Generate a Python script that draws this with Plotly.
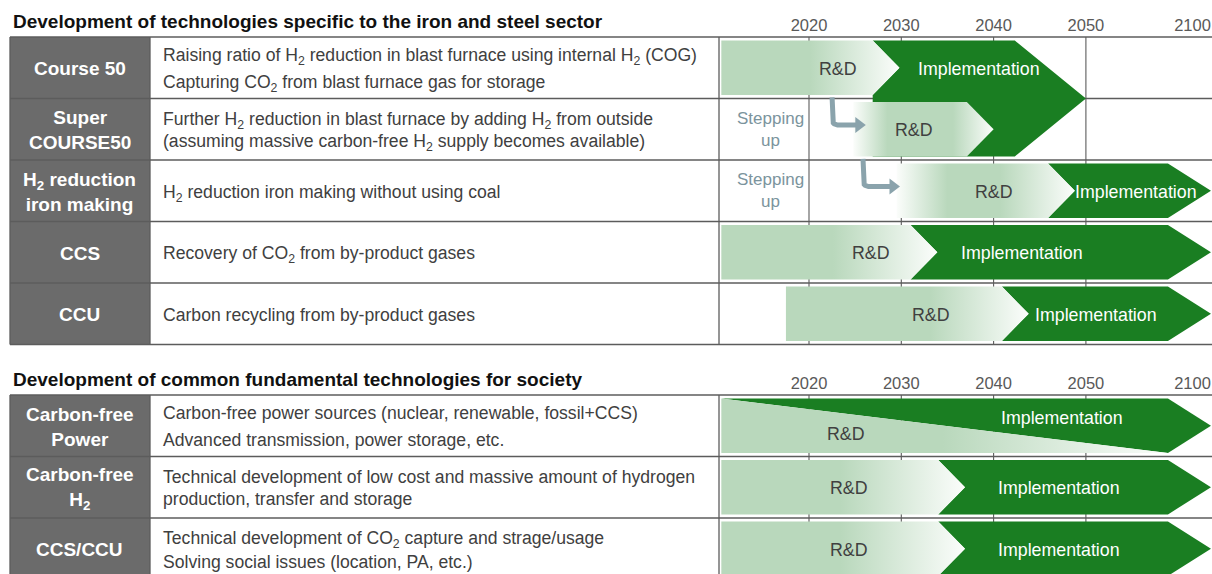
import numpy as np
import plotly.graph_objects as go

# ---------------------------------------------------------------- data
TICK_YEARS = [2020, 2030, 2040, 2050, 2100]
GRID_YEARS = [2020, 2030, 2040, 2050]

SECTION_TITLES = [
    "Development of technologies specific to the iron and steel sector",
    "Development of common fundamental technologies for society",
]

SEC1_LABELS = ["Course 50", "Super<br>COURSE50", "H<sub>2</sub> reduction<br>iron making", "CCS", "CCU"]
SEC1_DESC = [
    ["Raising ratio of H<sub>2</sub> reduction in blast furnace using internal H<sub>2</sub> (COG)",
     "Capturing CO<sub>2</sub> from blast furnace gas for storage"],
    ["Further H<sub>2</sub> reduction in blast furnace by adding H<sub>2</sub> from outside",
     "(assuming massive carbon-free H<sub>2</sub> supply becomes available)"],
    ["H<sub>2</sub> reduction iron making without using coal"],
    ["Recovery of CO<sub>2</sub> from by-product gases"],
    ["Carbon recycling from by-product gases"],
]
SEC1_RD_START = [2010.5, 2024.8, 2029.5, 2010.5, 2017.5]      # R&D begins
SEC1_IMPL_START = [2026.9, 2037.1, 2045.9, 2031.0, 2040.9]    # R&D hands over to implementation
SEC1_IMPL_END = [2050, None, 2100, 2100, 2100]                # None: shares Course 50 implementation
SEC1_STEP_FROM = [None, 2022.5, 2025.85, None, None]          # "Stepping up" bent arrows
SEC1_STEP_TO = [None, 2026.0, 2029.7, None, None]

SEC2_LABELS = ["Carbon-free<br>Power", "Carbon-free<br>H<sub>2</sub>", "CCS/CCU"]
SEC2_DESC = [
    ["Carbon-free power sources (nuclear, renewable, fossil+CCS)",
     "Advanced transmission, power storage, etc."],
    ["Technical development of low cost and massive amount of hydrogen",
     "production, transfer and storage"],
    ["Technical development of CO<sub>2</sub> capture and strage/usage",
     "Solving social issues (location, PA, etc.)"],
]
SEC2_RD_START = [2010.5, 2010.5, 2010.5]
SEC2_IMPL_START = [2010.5, 2034.0, 2034.0]
SEC2_IMPL_END = [2100, 2100, 2100]
SEC2_GRADUAL = [True, False, False]   # R&D gradually replaced by implementation

# ---------------------------------------------------------------- styles / layout
W, H = 1212, 574
PX_PER_YEAR = 9.23
X0_PX = 809                     # pixel of 2020
X_RANGE = [2020 - X0_PX / PX_PER_YEAR, 2020 + (W - X0_PX) / PX_PER_YEAR]
LATE_SCALE = 13.55 / 50         # 2050-2100 is compressed on the chart

DARK = "#1a7e22"
LIGHT = "#b9d8bc"
FADE = "#fbfdfb"
CELL = "#6b6b6b"
LINE = "#5c5c5c"
STEP = "#8aa3ac"
FONT = "Liberation Sans"

SEC_TOPS = [37, 395]
ROW_H = 61.5
PAD = 3.6
NOTCH = 2.9          # chevron depth (years) between R&D and implementation
TIP = 4.66           # implementation arrow head depth
BIG_TIP = 7.7

SEC1_FADE_IN = [None, 2028.5, 2035.0, None, None]
SEC1_FADE_OUT = [2020.1, 2035.6, 2040.7, 2022.6, 2033.1]
SEC2_FADE_OUT = [2034.5, 2023.4, 2023.4]
SEC1_RD_TXT = [2023.1, 2031.4, 2040.0, 2026.7, 2033.2]
SEC1_IMPL_TXT = [2038.4, None, 2055.4, 2043.1, 2051.1]
SEC2_RD_TXT = [2024.0, 2024.3, 2024.3]
SEC2_IMPL_TXT = [2047.4, 2047.1, 2047.1]
SEC1_DESC_GAP = [27, 22, 0, 0, 0]
SEC2_DESC_GAP = [27, 22, 24]


def tl(year):
    """timeline position of a year on the x axis"""
    return year if year <= 2050 else 2050 + (year - 2050) * LATE_SCALE


def row_box(sec, i):
    top = SEC_TOPS[sec] + i * ROW_H
    return top, top + ROW_H


fig = go.Figure()
shapes, annos = [], []


def hline(y, x0=10 / W, x1=1.0, color=LINE, width=1.3):
    shapes.append(dict(type="line", xref="paper", yref="y", x0=x0, x1=x1, y0=y, y1=y,
                       line=dict(color=color, width=width), layer="below"))


def vline_paper(xp, y0, y1):
    shapes.append(dict(type="line", xref="paper", yref="y", x0=xp, x1=xp, y0=y0, y1=y1,
                       line=dict(color=LINE, width=1.3), layer="below"))


def draw_table(sec, labels, descs, gaps):
    top = SEC_TOPS[sec]
    bottom = top + len(labels) * ROW_H
    shapes.append(dict(type="rect", xref="paper", yref="y", x0=10 / W, x1=150 / W, y0=top, y1=bottom,
                       fillcolor=CELL, line=dict(width=0), layer="below"))
    for i in range(len(labels) + 1):
        hline(top + i * ROW_H)
    for xp in [10 / W, 150 / W, 719 / W]:
        vline_paper(xp, top, bottom)
    for yv in GRID_YEARS:
        shapes.append(dict(type="line", xref="x", yref="y", x0=tl(yv), x1=tl(yv), y0=top, y1=bottom,
                           line=dict(color=LINE, width=1.1), layer="below"))
    for i, (lab, lines) in enumerate(zip(labels, descs)):
        t, b = row_box(sec, i)
        mid = (t + b) / 2
        annos.append(dict(xref="paper", yref="y", x=80 / W, y=mid + 1, text=lab, showarrow=False,
                          xanchor="center", yanchor="middle", align="center",
                          font=dict(family=FONT, size=19, color="white", weight="bold")))
        n = len(lines)
        for k, line in enumerate(lines):
            yk = mid + 1 + (k - (n - 1) / 2) * gaps[i]
            if "<sub>" in line:
                yk += 1.5
            annos.append(dict(xref="paper", yref="y", x=161 / W, y=yk, text=line, showarrow=False,
                              xanchor="left", yanchor="middle",
                              font=dict(family=FONT, size=17.6, color="#404040")))


def poly(xs, ys, color=None, grad=None):
    kw = dict(x=xs + [xs[0]], y=ys + [ys[0]], mode="lines", fill="toself",
              line=dict(width=0, color="rgba(0,0,0,0)"), hoverinfo="skip", showlegend=False)
    if grad is not None:
        kw["fillgradient"] = grad
    else:
        kw["fillcolor"] = color
    fig.add_trace(go.Scatter(**kw))


def rd_grad(x_start, x_end, fade_in, fade_out):
    span = x_end - x_start
    cs = []
    if fade_in is not None:
        cs.append([0.0, FADE])
        cs.append([(fade_in - x_start) / span, LIGHT])
    else:
        cs.append([0.0, LIGHT])
    cs.append([(fade_out - x_start) / span, LIGHT])
    cs.append([1.0, FADE])
    return dict(type="horizontal", colorscale=cs, start=x_start, stop=x_end)


def txt(x, y, s, color):
    annos.append(dict(xref="x", yref="y", x=x, y=y, text=s, showarrow=False,
                      xanchor="center", yanchor="middle",
                      font=dict(family=FONT, size=17.8, color=color)))


draw_table(0, SEC1_LABELS, SEC1_DESC, SEC1_DESC_GAP)
draw_table(1, SEC2_LABELS, SEC2_DESC, SEC2_DESC_GAP)

# ---------------------------------------------------------------- section 1
# implementation arrows
for i in range(5):
    end = SEC1_IMPL_END[i]
    if end is None:
        continue
    t, b = row_box(0, i)
    top, bot = t + PAD, b - PAD
    mid = (t + b) / 2
    s = SEC1_IMPL_START[i]
    e = tl(end)
    if i == 0:   # Course 50 implementation also carries Super COURSE50 (two rows)
        t2, b2 = row_box(0, 1)
        bot2 = b2 - PAD
        xs = [s, e - BIG_TIP, e, e - BIG_TIP, s, s, s + NOTCH]
        ys = [top, top, b, bot2, bot2, bot, mid]
    else:
        xs = [s, e - TIP, e, e - TIP, s, s + NOTCH]
        ys = [top, top, mid, bot, bot, mid]
    poly(xs, ys, color=DARK)

# R&D arrows
for i in range(5):
    t, b = row_box(0, i)
    top, bot = t + PAD, b - PAD
    mid = (t + b) / 2
    rs, s = SEC1_RD_START[i], SEC1_IMPL_START[i]
    xs = [rs, s, s + NOTCH, s, rs]
    ys = [top, top, mid, bot, bot]
    poly(xs, ys, grad=rd_grad(rs, s + NOTCH, SEC1_FADE_IN[i], SEC1_FADE_OUT[i]))
    txt(SEC1_RD_TXT[i], mid + 1, "R&amp;D", "#404040")
    if SEC1_IMPL_TXT[i] is not None:
        txt(SEC1_IMPL_TXT[i], mid + 0.8, "Implementation", "white")

# stepping-up bent arrows
for i in range(5):
    if SEC1_STEP_FROM[i] is None:
        continue
    t, b = row_box(0, i)
    yc = t + 26.5
    x0, x1 = SEC1_STEP_FROM[i], SEC1_STEP_TO[i]
    r_y, r_x = 5.5, 5.5 / PX_PER_YEAR
    a = np.linspace(0, np.pi / 2, 8)
    qx = x0 + r_x - r_x * np.cos(a)
    qy = (yc - r_y) + r_y * np.sin(a)
    xs = [x0] + list(qx) + [x1 - 0.8]
    ys = [t - 1.2] + list(qy) + [yc]
    fig.add_trace(go.Scatter(x=xs, y=ys, mode="lines", line=dict(color=STEP, width=5),
                             hoverinfo="skip", showlegend=False))
    fig.add_trace(go.Scatter(x=[x1 - 0.6], y=[yc], mode="markers",
                             marker=dict(symbol="triangle-right", size=14, color=STEP),
                             hoverinfo="skip", showlegend=False))
    annos.append(dict(xref="x", yref="y", x=2015.8, y=(t + b) / 2, text="Stepping<br>up",
                      showarrow=False, xanchor="center", yanchor="middle", align="center",
                      font=dict(family=FONT, size=17, color="#7b949d")))

# ---------------------------------------------------------------- section 2
for i in range(3):
    t, b = row_box(1, i)
    top, bot = t + PAD, b - PAD
    mid = (t + b) / 2
    rs, s, e = SEC2_RD_START[i], SEC2_IMPL_START[i], tl(SEC2_IMPL_END[i])
    if SEC2_GRADUAL[i]:
        poly([rs, e - TIP, e, e - TIP], [top, top, mid, bot], color=DARK)
        poly([rs, e - TIP, rs], [top, bot, bot],
             grad=rd_grad(rs, e - TIP, None, SEC2_FADE_OUT[i]))
        txt(SEC2_RD_TXT[i], mid + 8, "R&amp;D", "#404040")
        txt(SEC2_IMPL_TXT[i], mid - 8, "Implementation", "white")
    else:
        poly([s, e - TIP, e, e - TIP, s, s + NOTCH], [top, top, mid, bot, bot, mid], color=DARK)
        poly([rs, s, s + NOTCH, s, rs], [top, top, mid, bot, bot],
             grad=rd_grad(rs, s + NOTCH, None, SEC2_FADE_OUT[i]))
        txt(SEC2_RD_TXT[i], mid + 1, "R&amp;D", "#404040")
        txt(SEC2_IMPL_TXT[i], mid + 0.8, "Implementation", "white")

# section titles
for k, ttl in enumerate(SECTION_TITLES):
    annos.append(dict(xref="paper", yref="y", x=11 / W, y=SEC_TOPS[k] - 15.5, text=ttl,
                      showarrow=False, xanchor="left", yanchor="middle",
                      font=dict(family=FONT, size=19, color="#111111", weight="bold")))

# year axes (one per section)
tickvals = [tl(y) for y in TICK_YEARS]
tickvals[-1] -= 2.0   # keep the last label inside the frame
ticktext = [str(y) for y in TICK_YEARS]
axis_common = dict(range=X_RANGE, showgrid=False, zeroline=False, showline=False, ticks="",
                   tickvals=tickvals, ticktext=ticktext, side="top", anchor="free",
                   tickfont=dict(family=FONT, size=16.5, color="#595959"), ticklabelstandoff=3)
fig.add_trace(go.Scatter(x=[2030], y=[300], xaxis="x2", mode="markers",
                         marker=dict(opacity=0), hoverinfo="skip", showlegend=False))

fig.update_layout(
    width=W, height=H, margin=dict(l=0, r=0, t=0, b=0),
    paper_bgcolor="white", plot_bgcolor="white",
    xaxis=dict(**axis_common, position=1 - SEC_TOPS[0] / H),
    xaxis2=dict(**axis_common, position=1 - SEC_TOPS[1] / H, overlaying="x", matches="x"),
    yaxis=dict(range=[H, 0], visible=False, fixedrange=True),
    shapes=shapes, annotations=annos, showlegend=False,
)

fig.write_html("out.html", config={"displayModeBar": False},
               post_script="document.body.style.margin='0';"
                           "document.documentElement.style.overflow='hidden';")
